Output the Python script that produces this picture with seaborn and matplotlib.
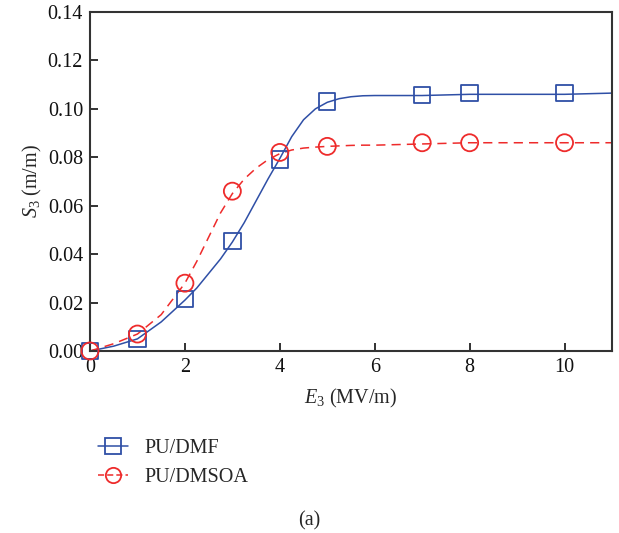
import numpy as np
import pandas as pd
import matplotlib
matplotlib.use('Agg')
import matplotlib.pyplot as plt
from matplotlib.lines import Line2D
import seaborn as sns

sns.set_style('white')
plt.rcParams['font.family'] = ['Liberation Serif', 'DejaVu Serif']
plt.rcParams['mathtext.fontset'] = 'custom'
plt.rcParams['mathtext.rm'] = 'Liberation Serif'
plt.rcParams['mathtext.it'] = 'Liberation Serif:italic'

BLUE = '#2f4fa6'
RED = '#ee2b2b'
FS = 14.5

# measured points
e_pts = [0, 1, 2, 3, 4, 5, 7, 8, 10]
s_dmf = [0.0, 0.005, 0.0215, 0.0455, 0.079, 0.103, 0.1058, 0.1065, 0.1065]
s_dmsoa = [0.0, 0.007, 0.028, 0.066, 0.082, 0.0845, 0.086, 0.086, 0.086]

# fitted curves
e_fit = [0, 0.5, 1, 1.5, 2, 2.25, 2.5, 2.75, 3, 3.25, 3.5, 3.75, 4, 4.25, 4.5,
         4.75, 5, 5.25, 5.5, 5.75, 6, 7, 8, 9, 10, 11]
dmf_fit = [0.0, 0.002, 0.005, 0.012, 0.021, 0.026, 0.032, 0.038, 0.045, 0.053,
           0.062, 0.071, 0.0795, 0.0885, 0.0955, 0.1, 0.1027, 0.1042, 0.105,
           0.1054, 0.1055, 0.1055, 0.106, 0.106, 0.106, 0.1065]
dmsoa_fit = [0.0, 0.003, 0.007, 0.015, 0.028, 0.037, 0.047, 0.057, 0.065, 0.071,
             0.0755, 0.079, 0.0815, 0.083, 0.0838, 0.0842, 0.0845, 0.0847, 0.0849,
             0.085, 0.085, 0.0855, 0.086, 0.086, 0.086, 0.086]

pts = pd.DataFrame({'E': e_pts, 'DMF': s_dmf, 'DMSOA': s_dmsoa})
fit = pd.DataFrame({'E': e_fit, 'DMF': dmf_fit, 'DMSOA': dmsoa_fit})

fig = plt.figure(figsize=(6.19, 5.33), dpi=100)
ax = fig.add_axes([0.1454, 0.3415, 0.9887 - 0.1454, 0.9775 - 0.3415])

sns.lineplot(data=fit, x='E', y='DMF', ax=ax, color=BLUE, linewidth=1.1)
sns.lineplot(data=fit, x='E', y='DMSOA', ax=ax, color=RED, linewidth=1.1,
             linestyle=(0, (6, 4)))
sns.scatterplot(data=pts, x='E', y='DMF', ax=ax, marker='s', s=140,
                facecolor='none', edgecolor=BLUE, linewidth=1.3, zorder=3,
                clip_on=False)
sns.scatterplot(data=pts, x='E', y='DMSOA', ax=ax, marker='o', s=150,
                facecolor='none', edgecolor=RED, linewidth=1.3, zorder=3,
                clip_on=False)

ax.set_xlim(0, 11)
ax.set_ylim(0, 0.14)
ax.set_xticks([0, 2, 4, 6, 8, 10])
ax.set_yticks(np.arange(0, 0.141, 0.02))
ax.yaxis.set_major_formatter(matplotlib.ticker.FormatStrFormatter('%.2f'))
ax.tick_params(direction='in', length=6, width=1.3, labelsize=FS, pad=5,
               colors='#222222', labelcolor='#111111', bottom=True, left=True)
for sp in ax.spines.values():
    sp.set_linewidth(1.5)
    sp.set_color('#333333')
ax.set_xlabel('$E_3$ (MV/m)', fontsize=FS, labelpad=7)
ax.set_ylabel('$S_3$ (m/m)', fontsize=FS, labelpad=3)

handles = [
    Line2D([], [], color=BLUE, linewidth=1.1, marker='s', markersize=11,
           markerfacecolor='none', markeredgecolor=BLUE, markeredgewidth=1.3),
    Line2D([], [], color=RED, linewidth=1.1, linestyle=(0, (4, 2)), marker='o',
           markersize=11, markerfacecolor='none', markeredgecolor=RED,
           markeredgewidth=1.3),
]
fig.legend(handles, ['PU/DMF', 'PU/DMSOA'], loc='upper left',
           bbox_to_anchor=(0.158, 1 - 439 / 533), bbox_transform=fig.transFigure,
           frameon=False, fontsize=FS, handlelength=1.5, handletextpad=0.8,
           labelspacing=0.5, borderaxespad=0, borderpad=0)

fig.text(0.5, 1 - 521 / 533, '(a)', ha='center', va='center', fontsize=FS)

fig.savefig('out.png', dpi=100)
